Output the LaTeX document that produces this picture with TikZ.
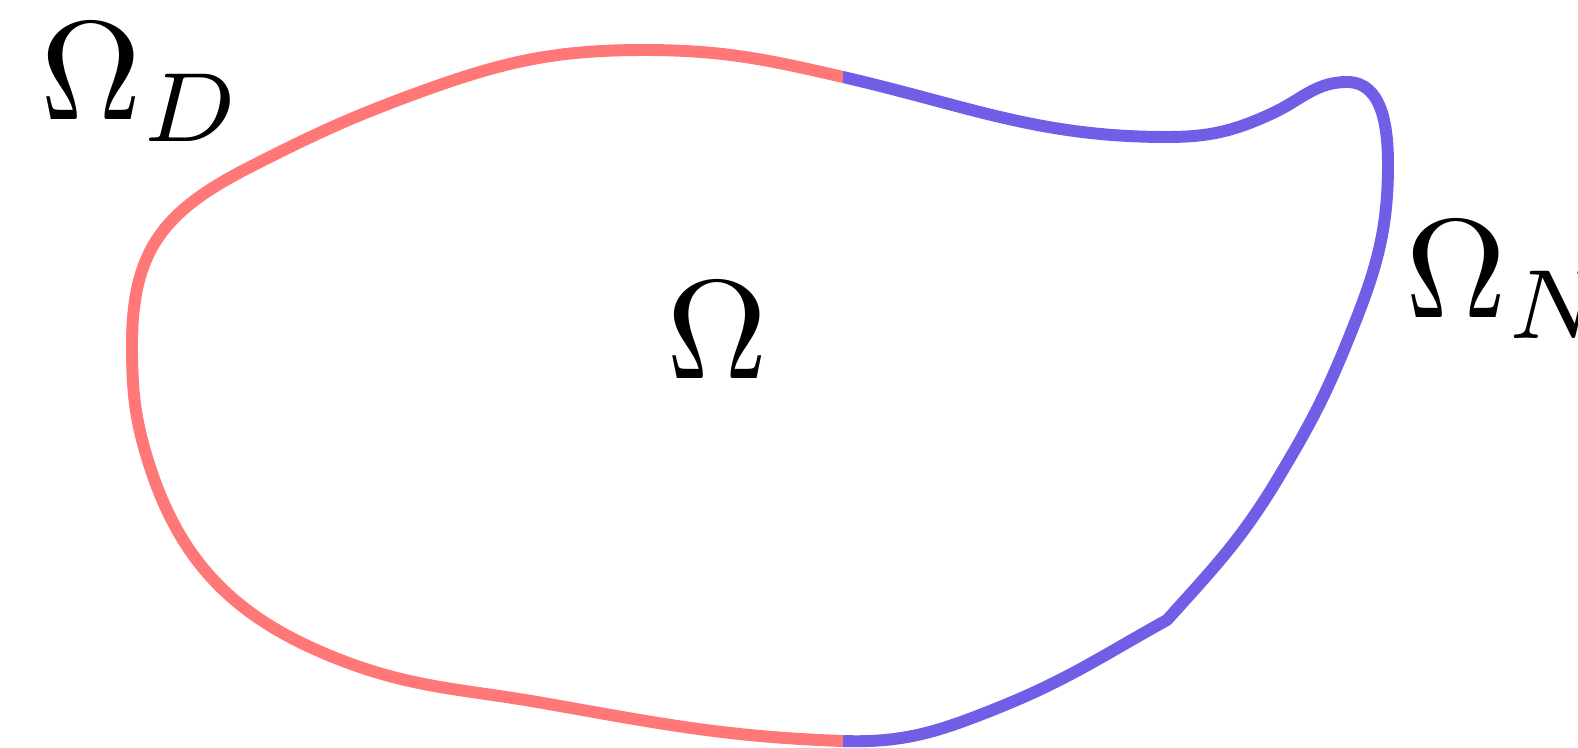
\documentclass[tikz,border=0pt]{standalone}
\definecolor{dirred}{RGB}{255,119,119}
\definecolor{neublue}{RGB}{112,94,230}
\newcommand{\bigsym}[1]{\scalebox{4}{$#1$}}
\tikzset{
  bdry/.style={line width=3.4pt, line cap=round, line join=round},
  biglabel/.style={inner sep=0pt}
}
\begin{document}
\begin{tikzpicture}
        \useasboundingbox (0,0) rectangle (15.78,7.47);
        \coordinate (topjoin) at (8.43,6.70);
        \coordinate (botjoin) at (8.43,0.06);

        % one closed boundary, cut at x = 8.43: red (Dirichlet) left, blue (Neumann) right
        \foreach \xa/\xb/\col in {0/8.43/dirred, 8.43/15.78/neublue}{
          \begin{scope}
            \clip (\xa,-1) rectangle (\xb,8.5);
            \draw[bdry, \col] (topjoin) to[out=-13,in=180] (11.67,6.10) to[out=0,in=205] (12.73,6.34)
              to[out=25,in=180] (13.47,6.65) to[out=0,in=90] (13.88,5.82) to[out=-90,in=68] (13.48,4.07)
              to[out=-112,in=59] (12.77,2.67) to[out=-121,in=48] (11.67,1.27) to[out=-151,in=22] (10.00,0.40)
              to[out=-158,in=-2] (botjoin) to[out=178,in=-10] (5.43,0.44) to[out=170,in=-22] (3.33,0.90)
              to[out=158,in=-72] (1.50,2.80) to[out=108,in=-90] (1.32,4.02)
              to[out=90,in=-153, looseness=1.15] (2.50,5.80) to[out=27,in=-160] (4.20,6.55)
              to[out=20,in=180] (6.44,6.97) to[out=0,in=167] (topjoin) -- cycle;
          \end{scope}
        }

        \node[biglabel] (dom) at (7.17,4.17) {\bigsym{\Omega}};
        \node[biglabel, anchor=base west] (gamD) at (0.40,6.27) {\bigsym{\Omega_D}};
        \node[biglabel, anchor=base west] (gamN) at (14.05,4.30) {\bigsym{\Omega_N}};
\end{tikzpicture}
\end{document}
